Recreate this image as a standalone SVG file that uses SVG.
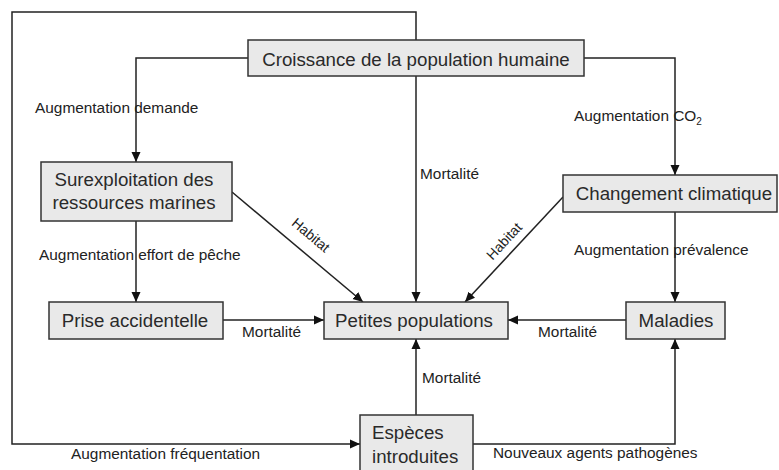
<svg xmlns="http://www.w3.org/2000/svg" width="779" height="470" viewBox="0 0 779 470">
<style>
.box{fill:#e9e9e9;stroke:#333;stroke-width:1.5}
.bt{font-family:"Liberation Sans",Arial,sans-serif;font-size:18.7px;fill:#2a2a2a}
.lb{font-family:"Liberation Sans",Arial,sans-serif;font-size:15.4px;fill:#222}
.hb{font-family:"Liberation Sans",Arial,sans-serif;font-size:14px;fill:#222}
.c{fill:none;stroke:#222;stroke-width:1.5}
</style>
<defs>
<marker id="ar" markerUnits="userSpaceOnUse" markerWidth="12" markerHeight="10" refX="10" refY="5" orient="auto">
<path d="M0,0.5 L10,5 L0,9.5 Z" fill="#111"/>
</marker>
</defs>
<rect width="779" height="470" fill="#fff"/>
<g id="connectors">
<path class="c" d="M416,40 V12 H12 V444 H360" marker-end="url(#ar)"/>
<path class="c" d="M248,58 H136 V162" marker-end="url(#ar)"/>
<path class="c" d="M584,58 H675 V175" marker-end="url(#ar)"/>
<path class="c" d="M416,76 V302" marker-end="url(#ar)"/>
<path class="c" d="M136,221 V302" marker-end="url(#ar)"/>
<path class="c" d="M232,192 L363,302" marker-end="url(#ar)"/>
<path class="c" d="M563,197 L465,302" marker-end="url(#ar)"/>
<path class="c" d="M675,212 V302" marker-end="url(#ar)"/>
<path class="c" d="M223,320 H324" marker-end="url(#ar)"/>
<path class="c" d="M626,320 H508" marker-end="url(#ar)"/>
<path class="c" d="M416,415 V339" marker-end="url(#ar)"/>
<path class="c" d="M473,444 H675 V339" marker-end="url(#ar)"/>
<text class="lb" x="35" y="113">Augmentation demande</text>
<text class="lb" x="574" y="121">Augmentation CO<tspan font-size="10" dy="4">2</tspan></text>
<text class="lb" x="420" y="179">Mortalité</text>
<text class="lb" x="39" y="260">Augmentation effort de pêche</text>
<text class="lb" x="574" y="255">Augmentation prévalence</text>
<text class="lb" x="242" y="337">Mortalité</text>
<text class="lb" x="538" y="337">Mortalité</text>
<text class="lb" x="422" y="383">Mortalité</text>
<text class="lb" x="71" y="459">Augmentation fréquentation</text>
<text class="lb" x="493" y="458">Nouveaux agents pathogènes</text>
<text class="hb" text-anchor="middle" transform="translate(311,235) rotate(40)" y="5">Habitat</text>
<text class="hb" text-anchor="middle" transform="translate(504,241) rotate(-47)" y="5">Habitat</text>
</g>
<g id="croissance">
<rect class="box" x="248" y="40" width="336" height="36"/>
<text class="bt" x="416" y="66" text-anchor="middle">Croissance de la population humaine</text>
</g>
<g id="surexploitation">
<rect class="box" x="41" y="162" width="191" height="59"/>
<text class="bt" x="134" y="186" text-anchor="middle">Surexploitation des</text>
<text class="bt" x="134" y="209" text-anchor="middle">ressources marines</text>
</g>
<g id="changement">
<rect class="box" x="563" y="175" width="214" height="37"/>
<text class="bt" x="674" y="200" text-anchor="middle">Changement climatique</text>
</g>
<g id="prise">
<rect class="box" x="49" y="302" width="174" height="37"/>
<text class="bt" x="135" y="327" text-anchor="middle">Prise accidentelle</text>
</g>
<g id="petites">
<rect class="box" x="324" y="302" width="184" height="37"/>
<text class="bt" x="414" y="327" text-anchor="middle">Petites populations</text>
</g>
<g id="maladies">
<rect class="box" x="626" y="302" width="99" height="37"/>
<text class="bt" x="676" y="327" text-anchor="middle">Maladies</text>
</g>
<g id="especes">
<rect class="box" x="360" y="415" width="113" height="60"/>
<text class="bt" x="372" y="439">Espèces</text>
<text class="bt" x="372" y="463">introduites</text>
</g>
</svg>
